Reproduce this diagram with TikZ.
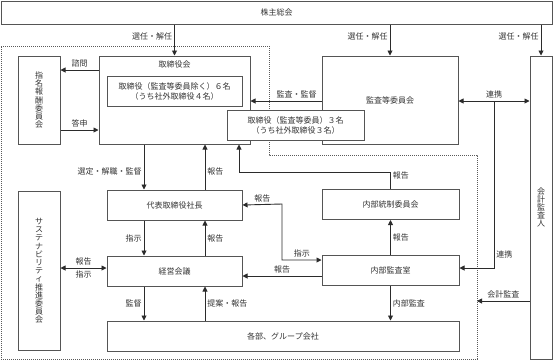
\documentclass[tikz,border=0pt]{standalone}
\usepackage{fontspec}
\usepackage{tikz}
\usetikzlibrary{
arrows.meta,
positioning
}
\newfontfamily\jpfont{Noto Sans CJK JP}
\definecolor{OrgLine}{HTML}{555555}
\definecolor{OrgArrow}{HTML}{2B2B2B}
\definecolor{OrgText}{HTML}{333333}
\definecolor{OrgDot}{HTML}{5A5A5A}
\tikzset{
orgbox/.style={draw=OrgLine, fill=white, line width=1pt, align=center, inner sep=1pt,
  text=OrgText, font=\jpfont\fontsize{8}{10}\selectfont},
orgtate/.style={orgbox, text width=10pt, font=\jpfont\fontsize{8}{8.2}\selectfont},
orgarrow/.style={-{Triangle[length=5pt,width=5pt]}, line width=0.9pt, draw=OrgArrow},
orgboth/.style={{Triangle[length=5pt,width=5pt]}-{Triangle[length=5pt,width=5pt]}, line width=0.9pt, draw=OrgArrow},
orglabel/.style={font=\jpfont\fontsize{8}{10}\selectfont, text=OrgText, inner sep=2pt},
orgdotted/.style={draw=OrgDot, line width=0.9pt, dash pattern=on 1pt off 1pt}
}
\begin{document}
\begin{tikzpicture}[x=1pt, y=-1pt, node distance=35pt]
\useasboundingbox (0,0) rectangle (553,360);
\draw[orgdotted] (1,46) -- (269,46) -- (269,155) -- (477,155) -- (477,359) -- (1,359) -- cycle;
\coordinate (dotedge) at (477,301);

\node[orgbox, minimum width=551pt, minimum height=23pt] (sokai) at (276.5,12.5) {株主総会};
\node[orgbox, minimum width=151pt, minimum height=88pt] (torikai) at (174.5,100) {};
\node[orglabel, below=3pt of torikai.north] (torititle) {取締役会};
\node[orgbox, minimum width=135pt, minimum height=30pt] (torinai) at (174.5,91) {取締役（監査等委員除く）６名\\（うち社外取締役４名）};
\node[orgbox, minimum width=136pt, minimum height=88pt] (kansakai) at (390,100) {監査等委員会};
\node[orgbox, minimum width=137pt, minimum height=30pt] (kansatori) at (295.5,125) {取締役（監査等委員）３名\\（うち社外取締役３名）};
\node[orgtate, minimum width=22pt, minimum height=303pt] (kaikei) at (541,207.5) {会\\計\\監\\査\\人};
\node[orgtate, minimum width=42pt, minimum height=88pt, left=38pt of torikai] (shimei) {指\\名\\報\\酬\\委\\員\\会};
\node[orgbox, minimum width=135pt, minimum height=30pt, below=45pt of torikai] (shacho) {代表取締役社長};
\node[orgbox, minimum width=135pt, minimum height=30pt, below=of shacho] (keiei) {経営会議};
\node[orgbox, minimum width=352pt, minimum height=30pt, below=34pt of keiei.south west, anchor=north west] (kakubu) {各部、グループ会社};
\node[orgtate, minimum width=42pt, minimum height=159pt, left=46pt of keiei] (sustain) {サ\\ス\\テ\\ナ\\ビ\\リ\\テ\\ィ\\推\\進\\委\\員\\会};
\node[orgbox, minimum width=137pt, minimum height=30pt] (naibutosei) at (390.5,204.5) {内部統制委員会};
\node[orgbox, minimum width=137pt, minimum height=30pt, below=of naibutosei] (naibukansa) {内部監査室};

\draw[orgarrow] (sokai.south -| torikai.north) -- (torikai.north) node[orglabel, pos=0.4, left]{選任・解任};
\draw[orgarrow] (sokai.south -| kansakai.north) -- (kansakai.north) node[orglabel, pos=0.4, left]{選任・解任};
\draw[orgarrow] (sokai.south -| kaikei.north) -- (kaikei.north) node[orglabel, pos=0.4, left]{選任・解任};
\draw[orgarrow] (torikai.west |- 0,70) -- (shimei.east |- 0,70) node[orglabel, midway, above]{諮問};
\draw[orgarrow] (shimei.east |- 0,130) -- (torikai.west |- 0,130) node[orglabel, midway, above]{答申};
\draw[orgarrow] (kansakai.west |- 0,101) -- (torikai.east |- 0,101) node[orglabel, pos=0.35, above]{監査・監督};
\draw[orgboth] (kansakai.east |- 0,101) -- (kaikei.west |- 0,101) node[orglabel, midway, above]{連携};
\coordinate (renkei) at (494,101);
\draw[orgarrow] (renkei) |- (naibukansa.east |- 0,268) node[orglabel, pos=0.46, right]{連携};
\draw[orgarrow] (kaikei.west |- dotedge) -- (dotedge) node[orglabel, midway, above]{会計監査};
\draw[orgarrow] (torikai.south -| 144,0) -- (shacho.north -| 144,0) node[orglabel, pos=0.6, left]{選定・解職・監督};
\draw[orgarrow] (shacho.north -| 205,0) -- (torikai.south -| 205,0) node[orglabel, pos=0.4, right]{報告};
\draw[orgarrow] (naibutosei.north) |- node[orglabel, pos=0.4, right]{報告} (239,172) -- (torikai.south -| 239,0);
\draw[orgboth] (shacho.east) -- node[orglabel, above]{報告} (282,204) -- (282,260) -- node[orglabel, above]{指示} (naibukansa.west |- 0,260);
\draw[orgarrow] (naibukansa.west |- 0,276) -- (keiei.east |- 0,276) node[orglabel, midway, above]{報告};
\draw[orgarrow] (shacho.south -| 144,0) -- (keiei.north -| 144,0) node[orglabel, midway, left]{指示};
\draw[orgarrow] (keiei.north -| 205,0) -- (shacho.south -| 205,0) node[orglabel, midway, right]{報告};
\draw[orgarrow] (keiei.south -| 144,0) -- (kakubu.north -| 144,0) node[orglabel, midway, left]{監督};
\draw[orgarrow] (kakubu.north -| 205,0) -- (keiei.south -| 205,0) node[orglabel, midway, right]{提案・報告};
\draw[orgboth] (sustain.east |- 0,268) -- (keiei.west |- 0,268) node[orglabel, midway, above]{報告} node[orglabel, midway, below]{指示};
\draw[orgarrow] (naibukansa.north) -- (naibutosei.south) node[orglabel, midway, right]{報告};
\draw[orgarrow] (naibukansa.south) -- (kakubu.north -| naibukansa.south) node[orglabel, midway, right]{内部監査};
\end{tikzpicture}
\end{document}
